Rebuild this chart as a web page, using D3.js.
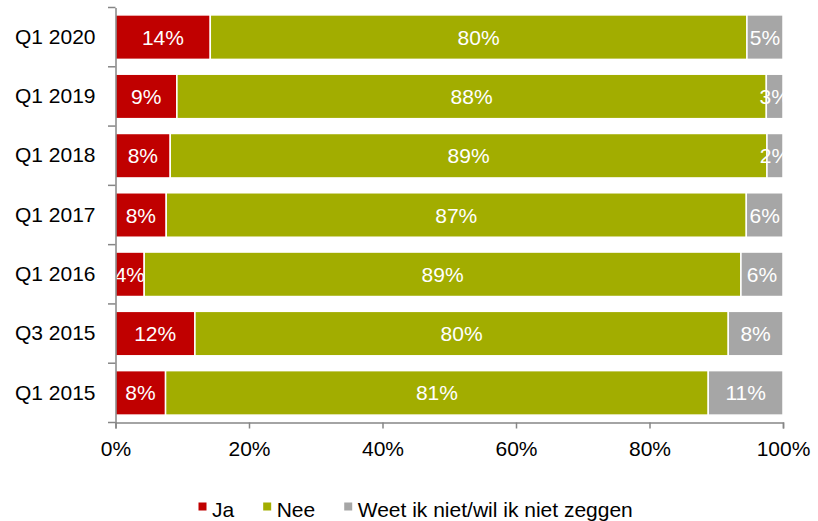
<!DOCTYPE html>
<html>
<head>
<meta charset="utf-8">
<script src="https://cdn.jsdelivr.net/npm/d3@7"></script>
<style>
  html, body { margin: 0; padding: 0; background: #fff; }
  svg { display: block; font-family: "Liberation Sans", Arial, sans-serif; }
</style>
</head>
<body>
<svg id="chart" width="818" height="521"></svg>
<script>
// Survey periods, top to bottom
const periods = ["Q1 2020", "Q1 2019", "Q1 2018", "Q1 2017", "Q1 2016", "Q3 2015", "Q1 2015"];

// Share of answers per period (%)
const ja   = [14.2,  9.2,  8.2,  7.6,  4.3, 11.9,  7.5];
const nee  = [80.4, 88.3, 89.4, 86.9, 89.4, 79.9, 81.3];
const weet = [ 5.4,  2.5,  2.4,  5.5,  6.3,  8.2, 11.2];

const seriesNames = ["Ja", "Nee", "Weet ik niet/wil ik niet zeggen"];
const seriesColors = ["#C00000", "#A2AD00", "#A6A6A6"];
const xTicks = [0, 20, 40, 60, 80, 100];

const rows = periods.map((p, i) => ({ period: p, Ja: ja[i], Nee: nee[i], Weet: weet[i] }));
const keys = ["Ja", "Nee", "Weet"];

const svg = d3.select("#chart");
const plotLeft = 115.5, plotRight = 783, plotTop = 7.5, plotBottom = 422.5;

const x = d3.scaleLinear().domain([0, 100]).range([plotLeft, plotRight]);
const y = d3.scaleBand().domain(periods).range([plotTop, plotBottom]).paddingInner(0.25).paddingOuter(0.125);
const color = d3.scaleOrdinal().domain(keys).range(seriesColors);

const stacked = d3.stack().keys(keys)(rows);

// Clip region so the labels of narrow segments stay inside the plot
svg.append("defs").append("clipPath").attr("id", "plotClip")
  .append("rect").attr("x", plotLeft).attr("y", 0)
  .attr("width", plotRight - plotLeft).attr("height", plotBottom);

// Bars
const layers = svg.append("g").selectAll("g").data(stacked).join("g")
  .attr("fill", d => color(d.key));

layers.selectAll("rect").data(d => d).join("rect")
  .attr("x", d => x(d[0]))
  .attr("y", d => y(d.data.period))
  .attr("width", d => x(d[1]) - x(d[0]))
  .attr("height", y.bandwidth())
  .attr("stroke", "#fff")
  .attr("stroke-width", 1.5);

// Value labels
const labels = svg.append("g").attr("clip-path", "url(#plotClip)");
stacked.forEach(layer => {
  labels.selectAll(null).data(layer).join("text")
    .attr("x", d => (x(d[0]) + x(d[1])) / 2)
    .attr("y", d => y(d.data.period) + y.bandwidth() / 2)
    .attr("dy", "0.36em")
    .attr("text-anchor", "middle")
    .attr("fill", "#fff")
    .attr("font-size", 21)
    .text(d => Math.round(d[1] - d[0]) + "%");
});

// X axis
const xAxis = svg.append("g")
  .attr("transform", `translate(0,${plotBottom})`)
  .call(d3.axisBottom(x).tickValues(xTicks).tickFormat(d => d + "%")
    .tickSizeInner(6).tickSizeOuter(6).tickPadding(13));
xAxis.selectAll("path, line").attr("stroke", "#868686").attr("stroke-width", 1.5);
xAxis.selectAll("text").attr("font-size", 21).attr("fill", "#000")
  .attr("font-family", "'Liberation Sans', Arial, sans-serif");

// Y axis: category labels plus separator ticks between bands
const yAxis = svg.append("g")
  .attr("transform", `translate(${plotLeft},0)`)
  .call(d3.axisLeft(y).tickSize(0).tickPadding(20));
yAxis.select(".domain").attr("stroke", "#868686").attr("stroke-width", 1.5);
yAxis.selectAll("text").attr("font-size", 21).attr("fill", "#000")
  .attr("font-family", "'Liberation Sans', Arial, sans-serif");

const boundaries = d3.range(periods.length + 1).map(i => plotTop + i * y.step());
yAxis.selectAll("line.sep").data(boundaries).join("line")
  .attr("class", "sep")
  .attr("x1", -7.5).attr("x2", 0)
  .attr("y1", d => d).attr("y2", d => d)
  .attr("stroke", "#868686").attr("stroke-width", 1.5);

// Legend
const legend = svg.append("g");
let lx = 198.5;
seriesNames.forEach((name, i) => {
  legend.append("rect")
    .attr("x", lx).attr("y", 502.5).attr("width", 8).attr("height", 8)
    .attr("fill", seriesColors[i]);
  const t = legend.append("text")
    .attr("x", lx + 13.5).attr("y", 516.5)
    .attr("font-size", 21).attr("fill", "#000")
    .text(name);
  lx += 13.5 + t.node().getComputedTextLength() + 29;
});
</script>
</body>
</html>
